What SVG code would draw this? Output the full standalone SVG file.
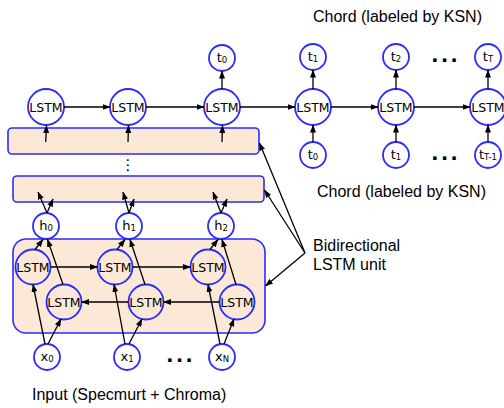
<svg xmlns="http://www.w3.org/2000/svg" width="504" height="408" viewBox="0 0 504 408">
<defs>
<marker id="ah" markerUnits="userSpaceOnUse" markerWidth="8" markerHeight="6" refX="7.5" refY="3" orient="auto">
<path d="M0,0 L8,3 L0,6 z" fill="#000"/>
</marker>
<style>
.box{fill:#fbe8d6;stroke:#2b2bff;stroke-width:1.6}
.c{fill:none;stroke:#2b2bff;stroke-width:1.8}
.cw{fill:#fff;stroke:#2b2bff;stroke-width:1.8}
.n{font-family:"DejaVu Sans",Verdana,sans-serif;font-size:12.5px;text-anchor:middle;fill:#000}
.s{font-family:"DejaVu Sans",Verdana,sans-serif;font-size:13px;text-anchor:middle;fill:#000}
.sub{font-size:8.5px}
.lab{font-family:"Liberation Sans",Arial,sans-serif;font-size:16px;fill:#000}
.dots{font-family:"Liberation Sans",Arial,sans-serif;font-size:24px;font-weight:bold;text-anchor:middle;letter-spacing:3px;fill:#000}
.ar{stroke:#000;stroke-width:1.3;fill:none;marker-end:url(#ah)}
</style>
</defs>
<rect width="504" height="408" fill="#fff"/>

<g id="box1"><rect class="box" x="8" y="128" width="251" height="26" rx="4"/></g>
<g id="box2"><rect class="box" x="13" y="176" width="251" height="26" rx="4"/></g>
<g id="bilstm"><rect class="box" x="13" y="239" width="252" height="94" rx="13"/></g>
<g id="vdots"><text x="128" y="170" style="font-family:'DejaVu Sans',sans-serif;font-size:15px;text-anchor:middle">⋮</text></g>

<g id="top-lstm-0"><circle class="cw" cx="46" cy="107" r="18"/><text class="n" x="46" y="111.5">LSTM</text></g>
<g id="top-lstm-1"><circle class="cw" cx="128" cy="107" r="18"/><text class="n" x="128" y="111.5">LSTM</text></g>
<g id="top-lstm-2"><circle class="cw" cx="222" cy="107" r="18"/><text class="n" x="222" y="111.5">LSTM</text></g>
<g id="top-lstm-3"><circle class="cw" cx="313" cy="107" r="18"/><text class="n" x="313" y="111.5">LSTM</text></g>
<g id="top-lstm-4"><circle class="cw" cx="396" cy="107" r="18"/><text class="n" x="396" y="111.5">LSTM</text></g>
<g id="top-lstm-5"><circle class="cw" cx="488" cy="107" r="18"/><text class="n" x="488" y="111.5">LSTM</text></g>

<g id="out-t0"><circle class="cw" cx="222" cy="58" r="13"/><text class="s" x="222" y="62">t<tspan class="sub" dy="1">0</tspan></text></g>
<g id="out-t1"><circle class="cw" cx="313" cy="57" r="13"/><text class="s" x="313" y="61">t<tspan class="sub" dy="1">1</tspan></text></g>
<g id="out-t2"><circle class="cw" cx="396" cy="57" r="13"/><text class="s" x="396" y="61">t<tspan class="sub" dy="1">2</tspan></text></g>
<g id="out-tT"><circle class="cw" cx="488" cy="57" r="13"/><text class="s" x="488" y="61">t<tspan class="sub" dy="1">T</tspan></text></g>
<g id="out-dots"><text class="dots" x="446" y="62">...</text></g>

<g id="in-t0"><circle class="cw" cx="313" cy="155" r="13"/><text class="s" x="313" y="159">t<tspan class="sub" dy="1">0</tspan></text></g>
<g id="in-t1"><circle class="cw" cx="396" cy="155" r="13"/><text class="s" x="396" y="159">t<tspan class="sub" dy="1">1</tspan></text></g>
<g id="in-tT1"><circle class="cw" cx="488" cy="155" r="13"/><text class="s" x="488" y="159">t<tspan class="sub" dy="1">T-1</tspan></text></g>
<g id="in-dots"><text class="dots" x="446" y="160">...</text></g>

<g id="h0"><circle class="cw" cx="46" cy="226" r="13"/><text class="s" x="46" y="230">h<tspan class="sub" dy="1">0</tspan></text></g>
<g id="h1"><circle class="cw" cx="129" cy="226" r="13"/><text class="s" x="129" y="230">h<tspan class="sub" dy="1">1</tspan></text></g>
<g id="h2"><circle class="cw" cx="221" cy="226" r="13"/><text class="s" x="221" y="230">h<tspan class="sub" dy="1">2</tspan></text></g>

<g id="fw-0"><circle class="c" cx="33" cy="267" r="17.5"/><text class="n" x="33" y="271.5">LSTM</text></g>
<g id="fw-1"><circle class="c" cx="115" cy="267" r="17.5"/><text class="n" x="115" y="271.5">LSTM</text></g>
<g id="fw-2"><circle class="c" cx="208" cy="267" r="17.5"/><text class="n" x="208" y="271.5">LSTM</text></g>
<g id="bw-0"><circle class="c" cx="64" cy="302" r="17.5"/><text class="n" x="64" y="306.5">LSTM</text></g>
<g id="bw-1"><circle class="c" cx="146" cy="302" r="17.5"/><text class="n" x="146" y="306.5">LSTM</text></g>
<g id="bw-2"><circle class="c" cx="237" cy="302" r="17.5"/><text class="n" x="237" y="306.5">LSTM</text></g>

<g id="x0"><circle class="cw" cx="47" cy="357" r="13"/><text class="s" x="47" y="361">x<tspan class="sub" dy="1">0</tspan></text></g>
<g id="x1"><circle class="cw" cx="127" cy="357" r="13"/><text class="s" x="127" y="361">x<tspan class="sub" dy="1">1</tspan></text></g>
<g id="xN"><circle class="cw" cx="222" cy="357" r="13"/><text class="s" x="222" y="361">x<tspan class="sub" dy="1">N</tspan></text></g>
<g id="x-dots"><text class="dots" x="181" y="362">...</text></g>

<g id="labels">
<text class="lab" x="313" y="22">Chord (labeled by KSN)</text>
<text class="lab" x="317" y="197">Chord (labeled by KSN)</text>
<text class="lab" x="313" y="251">Bidirectional</text>
<text class="lab" x="313" y="270">LSTM unit</text>
<text class="lab" x="32" y="400">Input (Specmurt + Chroma)</text>
</g>

<g id="connectors">
<line class="ar" x1="64" y1="107" x2="110" y2="107"/>
<line class="ar" x1="146" y1="107" x2="204" y2="107"/>
<line class="ar" x1="240" y1="107" x2="295" y2="107"/>
<line class="ar" x1="331" y1="107" x2="378" y2="107"/>
<line class="ar" x1="414" y1="107" x2="470" y2="107"/>
<line class="ar" x1="222" y1="89" x2="222" y2="71"/>
<line class="ar" x1="313" y1="89" x2="313" y2="70"/>
<line class="ar" x1="396" y1="89" x2="396" y2="70"/>
<line class="ar" x1="488" y1="89" x2="488" y2="70"/>
<line class="ar" x1="313" y1="142" x2="313" y2="125"/>
<line class="ar" x1="396" y1="142" x2="396" y2="125"/>
<line class="ar" x1="488" y1="142" x2="488" y2="125"/>
<line class="ar" x1="45.7" y1="142" x2="46.5" y2="125.5"/>
<line class="ar" x1="128" y1="142" x2="128.5" y2="125.5"/>
<line class="ar" x1="222" y1="142" x2="222.5" y2="125.5"/>
<line class="ar" x1="47" y1="213" x2="38" y2="192"/>
<line class="ar" x1="47" y1="213" x2="53" y2="199"/>
<line class="ar" x1="129" y1="213" x2="123" y2="192"/>
<line class="ar" x1="129" y1="213" x2="134" y2="199"/>
<line class="ar" x1="221" y1="213" x2="213" y2="192"/>
<line class="ar" x1="221" y1="213" x2="227" y2="199"/>
<line class="ar" x1="35" y1="249.5" x2="43" y2="239.5"/>
<line class="ar" x1="63" y1="284.5" x2="47.5" y2="239.5"/>
<line class="ar" x1="117" y1="249.5" x2="125" y2="239.5"/>
<line class="ar" x1="145" y1="284.5" x2="130" y2="239.5"/>
<line class="ar" x1="210" y1="249.5" x2="218" y2="239.5"/>
<line class="ar" x1="236" y1="284.5" x2="222" y2="239.5"/>
<line class="ar" x1="50.5" y1="267" x2="97.5" y2="267"/>
<line class="ar" x1="132.5" y1="267" x2="190.5" y2="267"/>
<line class="ar" x1="128.5" y1="302" x2="81.5" y2="302"/>
<line class="ar" x1="219.5" y1="302" x2="163.5" y2="302"/>
<line class="ar" x1="45" y1="344" x2="33" y2="284.5"/>
<line class="ar" x1="48" y1="344" x2="61" y2="319"/>
<line class="ar" x1="125" y1="344" x2="114" y2="284.5"/>
<line class="ar" x1="129" y1="344" x2="142" y2="319"/>
<line class="ar" x1="220" y1="344" x2="208" y2="284.5"/>
<line class="ar" x1="224" y1="344" x2="234" y2="319"/>
<line class="ar" x1="305" y1="253" x2="259.5" y2="143"/>
<line class="ar" x1="305" y1="253" x2="264.5" y2="190"/>
<line class="ar" x1="305" y1="253" x2="265.5" y2="286"/>
</g>
</svg>
